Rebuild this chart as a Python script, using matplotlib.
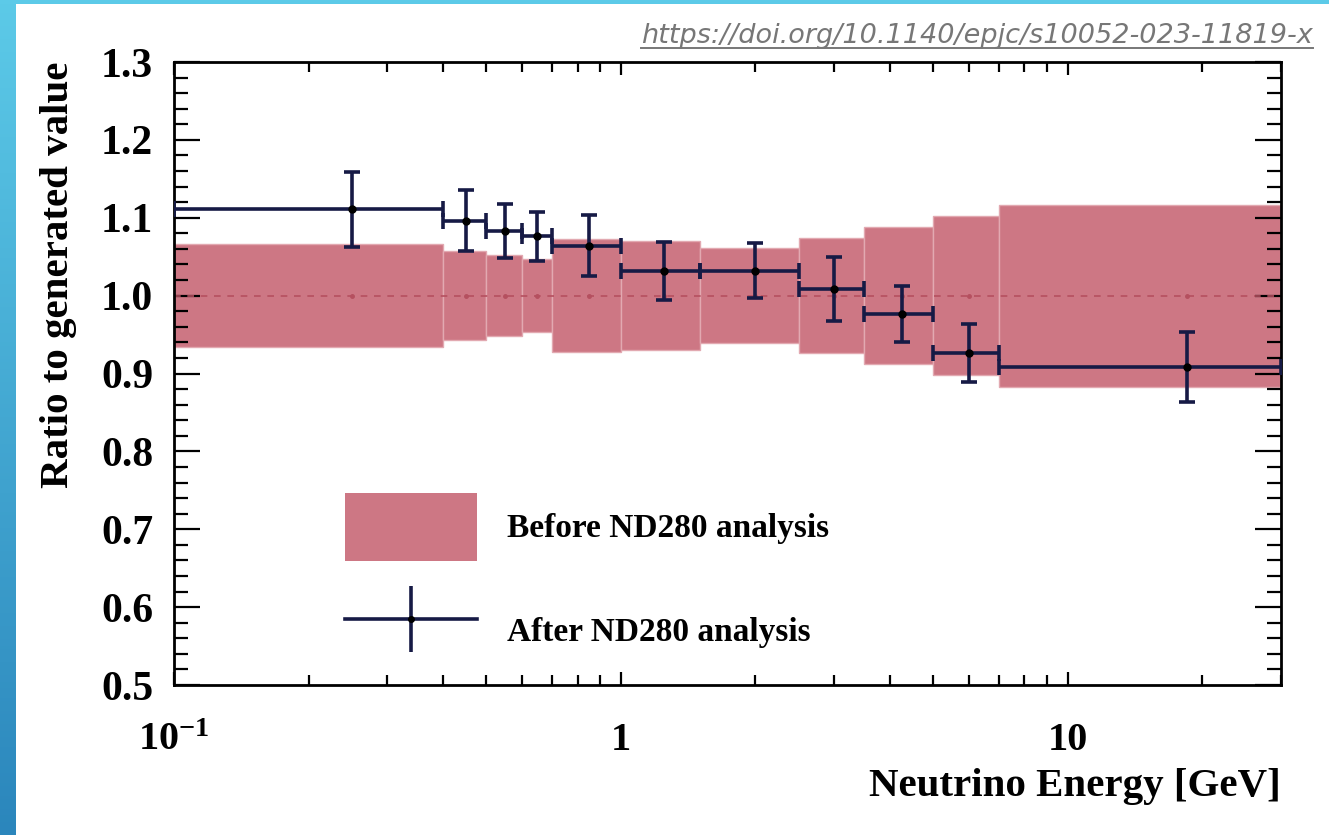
import numpy as np
import matplotlib
matplotlib.use("Agg")
import matplotlib.pyplot as plt
from matplotlib.lines import Line2D
from matplotlib.patches import Patch
from matplotlib.legend_handler import HandlerTuple
from matplotlib.ticker import FixedLocator, MultipleLocator, LogLocator, NullFormatter, FormatStrFormatter

# Energy binning [GeV]
bin_edges = [0.1, 0.4, 0.5, 0.6, 0.7, 1.0, 1.5, 2.5, 3.5, 5.0, 7.0, 30.0]

# Prior (before ND280) uncertainty, symmetric around 1
prior_err = [0.066, 0.057, 0.052, 0.047, 0.073, 0.070, 0.061, 0.074, 0.088, 0.102, 0.117]

# Post-fit (after ND280) ratio and error
post_val = [1.111, 1.096, 1.083, 1.076, 1.064, 1.032, 1.032, 1.009, 0.977, 0.926, 0.908]
post_err = [0.048, 0.039, 0.035, 0.032, 0.039, 0.037, 0.035, 0.041, 0.036, 0.037, 0.045]

xtick_vals = [0.1, 1, 10]
xtick_labels = [r"$\mathbf{10^{-1}}$", "1", "10"]

BAND = "#cd7784"
NAVY = "#161a45"

plt.rcParams["font.family"] = "Liberation Serif"
plt.rcParams["font.weight"] = "bold"
plt.rcParams["axes.labelweight"] = "bold"
plt.rcParams["mathtext.fontset"] = "custom"
plt.rcParams["mathtext.rm"] = "Liberation Serif:bold"
plt.rcParams["mathtext.bf"] = "Liberation Serif:bold"

edges = np.array(bin_edges)
lo, hi = edges[:-1], edges[1:]
centers = 0.5 * (lo + hi)
perr = np.array(prior_err)

fig = plt.figure(figsize=(13.29, 8.35), dpi=100)
ax = fig.add_axes([174 / 1329, 1 - 685 / 835, 1107 / 1329, 623 / 835])

# prior bands
ax.bar(lo, 2 * perr, bottom=1 - perr, width=hi - lo, align="edge",
       color=BAND, edgecolor="#e2a9b1", linewidth=1.0, zorder=1)
ax.axhline(1.0, color="#b5505f", lw=1.2, ls=(0, (4, 4)), zorder=2)
ax.plot(centers, np.ones_like(centers), ls="none", marker="o", ms=2.5,
        color="#b5505f", zorder=2)

# post-fit points
ax.errorbar(centers, post_val, xerr=[centers - lo, hi - centers], yerr=post_err,
            fmt="o", ms=5, mfc="black", mec="black", color=NAVY,
            elinewidth=2.6, capsize=5.5, capthick=2.6, zorder=3)

ax.set_xscale("log")
ax.set_xlim(0.1, 30)
ax.set_ylim(0.5, 1.3)

ax.xaxis.set_major_locator(FixedLocator(xtick_vals))
ax.set_xticklabels(xtick_labels)
ax.xaxis.set_minor_locator(LogLocator(base=10, subs=np.arange(2, 10)))
ax.xaxis.set_minor_formatter(NullFormatter())
ax.yaxis.set_major_locator(MultipleLocator(0.1))
ax.yaxis.set_minor_locator(MultipleLocator(0.02))
ax.yaxis.set_major_formatter(FormatStrFormatter("%.1f"))

ax.tick_params(axis="both", which="both", direction="in", top=True, right=True,
               width=1.6, color="black")
ax.tick_params(axis="y", which="major", length=18.5, pad=15, labelsize=30)
ax.tick_params(axis="y", which="minor", length=10)
ax.tick_params(axis="x", which="major", length=9.5, pad=27, labelsize=29)
ax.tick_params(axis="x", which="minor", length=7)
for s in ax.spines.values():
    s.set_linewidth(2.0)

ax.set_ylabel("Ratio to generated value", fontsize=29.5, loc="top")
ax.yaxis.set_label_coords(-0.088, 1.0)
ax.set_xlabel("Neutrino Energy [GeV]", fontsize=29.5, loc="right")
ax.xaxis.set_label_coords(1.0, -0.133)

# legend
h_before = Patch(facecolor=BAND, edgecolor="none")
h_after = (Line2D([], [], color=NAVY, lw=2.6),
           Line2D([], [], ls="none", marker="|", ms=47, mew=2.6, color=NAVY),
           Line2D([], [], ls="none", marker="o", ms=4, color="black"))
ax.legend([h_before, h_after], ["Before ND280 analysis", "After ND280 analysis"],
          loc="upper left", bbox_to_anchor=(0.1545, 0.308), frameon=False,
          borderpad=0, borderaxespad=0, fontsize=24, handlelength=3.95,
          handleheight=2.75, labelspacing=1.08, handletextpad=0.9,
          handler_map={tuple: HandlerTuple(ndivide=1, pad=0)})

# slide decoration
grad = np.linspace(0, 1, 256).reshape(-1, 1)
side = fig.add_axes([0, 0, 16 / 1329, 1])
side.imshow(grad, aspect="auto", extent=[0, 1, 0, 1],
            cmap=matplotlib.colors.LinearSegmentedColormap.from_list(
                "s", ["#5ccae8", "#2b86bc"]))
side.axis("off")
topbar = fig.add_axes([0, 1 - 4 / 835, 1, 4 / 835])
topbar.set_facecolor("#5ccae8")
topbar.set_xticks([])
topbar.set_yticks([])
for s in topbar.spines.values():
    s.set_visible(False)

doi = fig.text(1313 / 1329, 1 - 43 / 835, "https://doi.org/10.1140/epjc/s10052-023-11819-x",
               ha="right", va="baseline", fontsize=19.5, style="italic",
               family="DejaVu Sans", weight="normal", color="#777777")
fig.canvas.draw()
bb = doi.get_window_extent(fig.canvas.get_renderer())
fig.add_artist(Line2D([bb.x0, bb.x1], [bb.y0 + 1, bb.y0 + 1], transform=None,
                      color="#777777", lw=1.4))

fig.savefig("out.png", dpi=100)
